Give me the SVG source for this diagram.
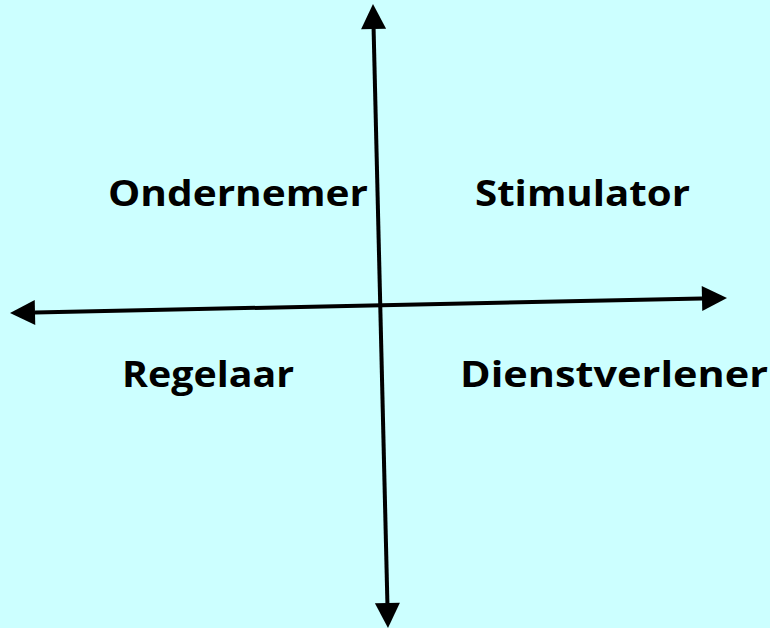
<svg xmlns="http://www.w3.org/2000/svg" width="770" height="628" viewBox="0 0 770 628">
<style>
.lbl{font-family:"Open Sans","Liberation Sans",sans-serif;font-weight:bold;font-size:36px;fill:#000}
.axis{stroke:#000;stroke-width:4;fill:none}
</style>
<defs>
<marker id="ah" markerUnits="userSpaceOnUse" markerWidth="30" markerHeight="30" refX="0" refY="0" orient="auto-start-reverse" overflow="visible">
<path d="M0,-12.5 L25,0 L0,12.5 Z" fill="#000"/>
</marker>
</defs>
<rect width="770" height="628" fill="#CCFFFF"/>
<g id="connectors">
<line class="axis" x1="373.6" y1="29" x2="387.4" y2="603" marker-start="url(#ah)" marker-end="url(#ah)"/>
<line class="axis" x1="35" y1="312.5" x2="702" y2="298.5" marker-start="url(#ah)" marker-end="url(#ah)"/>
</g>
<g id="ondernemer"><text class="lbl" x="108" y="206" textLength="260" lengthAdjust="spacingAndGlyphs">Ondernemer</text></g>
<g id="stimulator"><text class="lbl" x="475" y="206" textLength="215" lengthAdjust="spacingAndGlyphs">Stimulator</text></g>
<g id="regelaar"><text class="lbl" x="122" y="387" textLength="172" lengthAdjust="spacingAndGlyphs">Regelaar</text></g>
<g id="dienstverlener"><text class="lbl" x="460" y="387" textLength="308" lengthAdjust="spacingAndGlyphs">Dienstverlener</text></g>
</svg>
